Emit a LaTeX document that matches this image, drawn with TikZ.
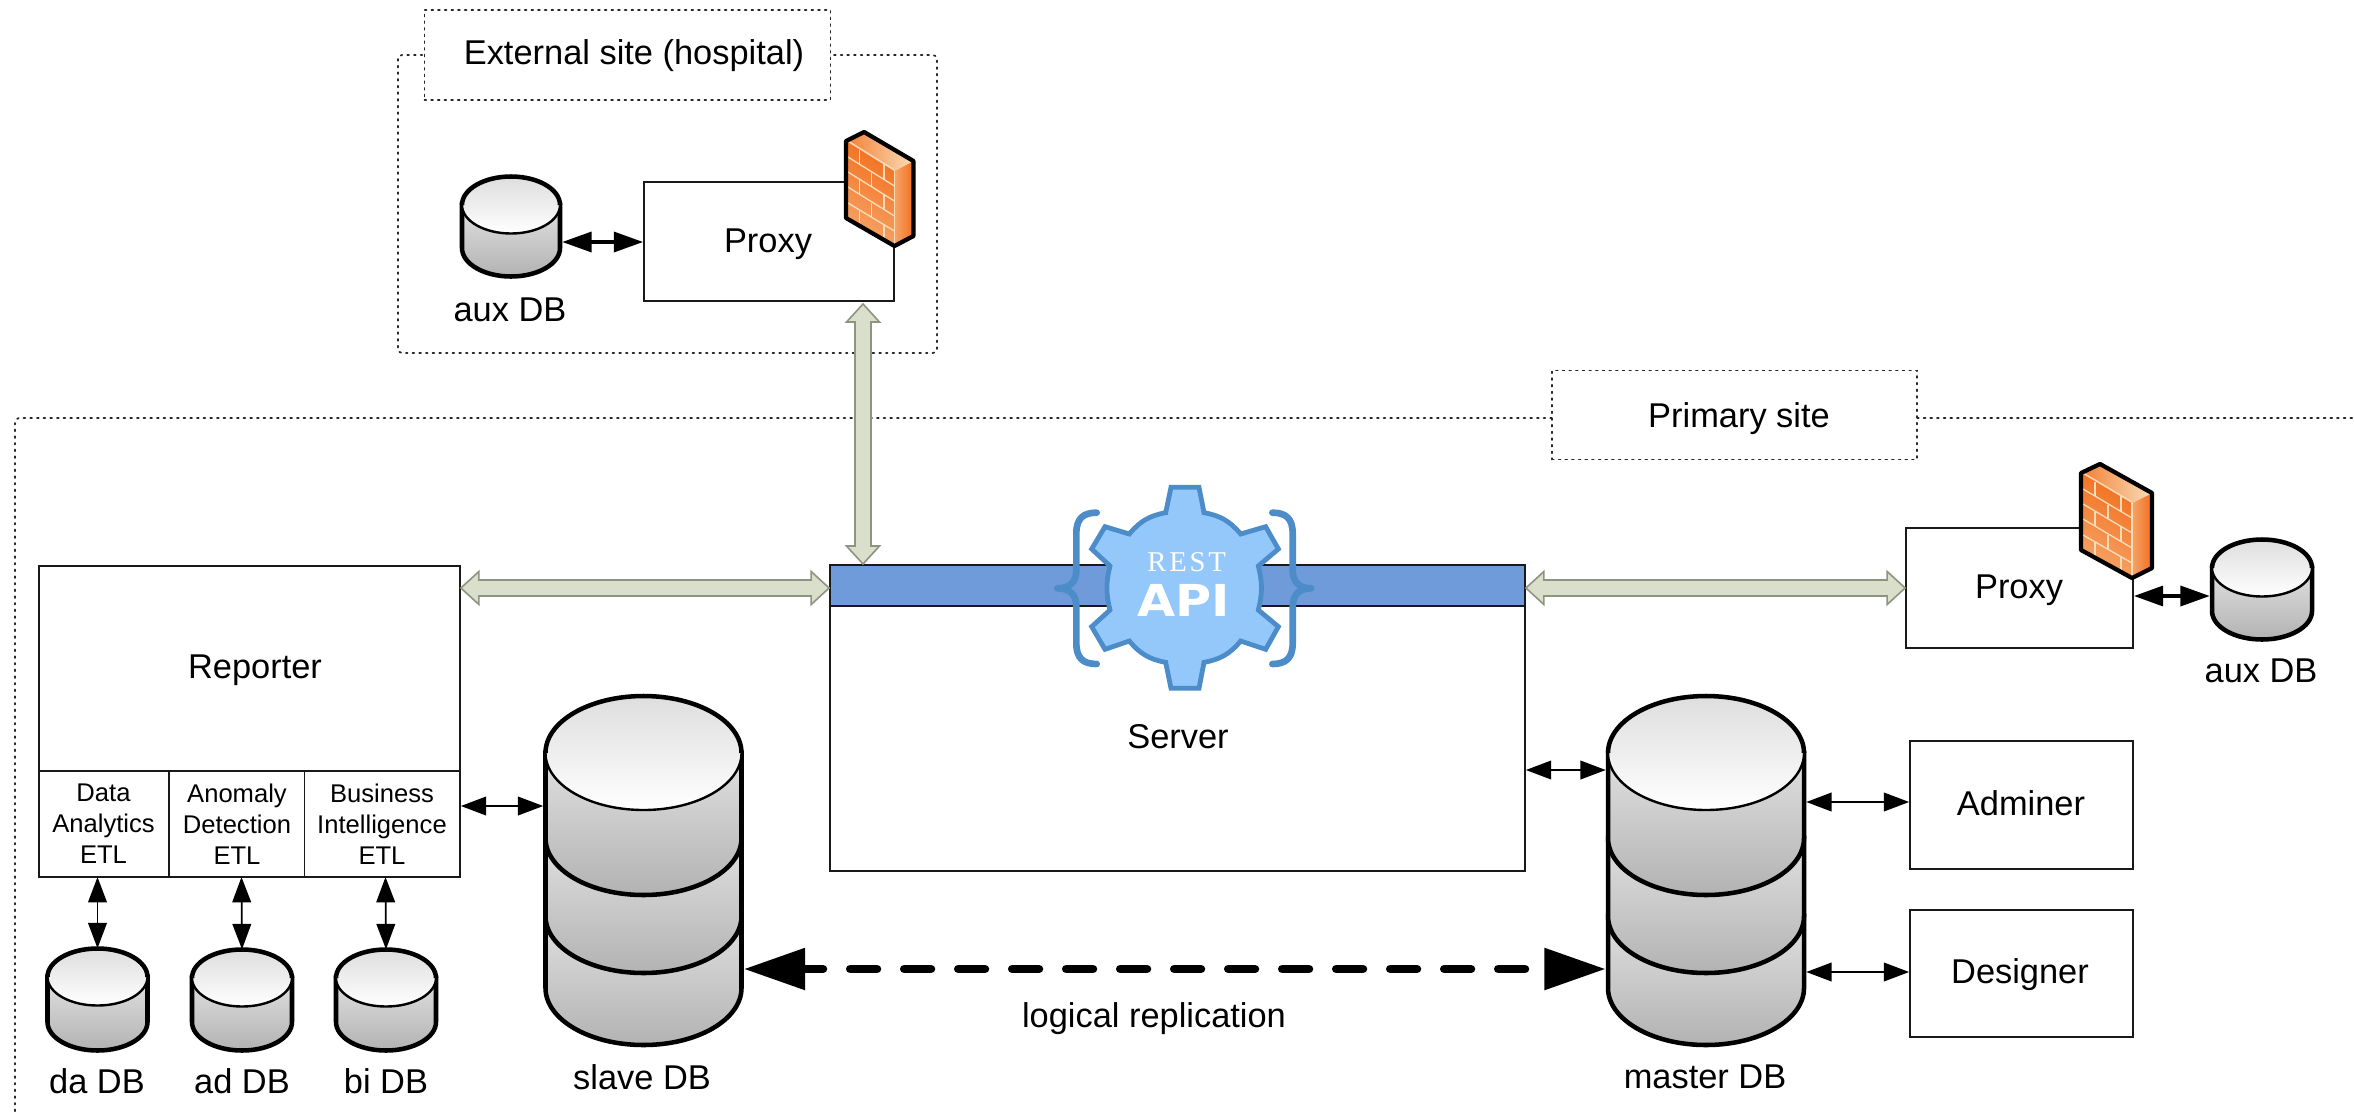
\documentclass[tikz,border=0pt]{standalone}
\usepackage{fontspec}
\setmainfont{Liberation Sans}
\newfontfamily\restfont[LetterSpace=10]{Liberation Serif}
\newfontfamily\apifont{DejaVu Sans}
\usetikzlibrary{arrows.meta,calc,shadings}
\definecolor{edgegray}{HTML}{8F9480}
\definecolor{fillgray}{HTML}{DADFCB}
\definecolor{barblue}{HTML}{6F9BDB}
\definecolor{gearfill}{HTML}{94C8FB}
\definecolor{gearedge}{HTML}{4B8CC9}
\definecolor{brickA}{HTML}{F26F1E}
\definecolor{brickB}{HTML}{F6A468}
\definecolor{brickline}{HTML}{F9DDB8}
\tikzset{
 dotbox/.style={draw=black!85,line width=1.3pt,dash pattern=on 1.3pt off 3.7pt,line cap=round},
 plainbox/.style={draw=black!90,line width=1.3pt,fill=white,inner sep=0pt},
 big/.style={font=\fontsize{25.8}{30}\selectfont,inner sep=0pt},
 small/.style={font=\fontsize{19.2}{23.2}\selectfont,inner sep=0pt,align=center},
 ghost/.style={inner sep=0pt,draw=none},
 thinarrow/.style={line width=1.3pt,{Triangle[length=19pt,width=14pt]}-{Triangle[length=19pt,width=14pt]}},
 thickarrow/.style={line width=2.6pt,{Triangle[length=22pt,width=15pt]}-{Triangle[length=22pt,width=15pt]}},
 reparrow/.style={line width=6.5pt,line cap=round,dash pattern=on 20pt off 20.5pt,dash phase=5pt,{Triangle[length=46pt,width=30pt]}-{Triangle[length=46pt,width=30pt]}},
 grayarrow/.style={draw=edgegray,fill=fillgray,line width=1.2pt,line join=miter}
}
% name, centre x, half width, top ellipse centre y, half height of ellipse, lower-arc centre y
\newcommand\dbcan[6]{%
 \node[ghost,minimum width=(#3+2)*2*0.75pt,minimum height=(#6+#5-#4+#5)*0.75pt] (#1) at (#2,{(#4-#5+#6+#5)/2}) {};
 \shade[top color=white!88!black,bottom color=white!70!black,draw=black,line width=3.4pt]
   (#2-#3,#4) -- (#2-#3,#6) arc[start angle=180,end angle=360,x radius=#3,y radius=-#5] -- (#2+#3,#4) -- cycle;
}
\newcommand\dbtop[4]{%
 \shade[top color=white!87!black,bottom color=white,draw=black,line width=1.8pt]
   (#1,#3) ellipse[x radius=#2,y radius=#4];
 \draw[black,line width=3.4pt] (#1-#2,#3) arc[start angle=180,end angle=360,x radius=#2,y radius=#4];
}
\newcommand\firewall[3]{%
 \begin{scope}[shift={(#1,#2)},xscale=#3]
  \shade[left color=brickA,right color=brickB,shading angle=-30] (0,9) -- (51,39) -- (51,114) -- (0,86) -- cycle;
  \shade[left color=brickB,right color=brickA] (51,39) -- (71,29) -- (71,104) -- (51,114) -- cycle;
  \shade[left color=brickA!70!brickB,right color=brickline] (0,9) -- (19,0) -- (71,29) -- (51,39) -- cycle;
  \begin{scope}[brickline,line width=1pt]
   \draw (2,9) -- (51,38);
   \draw (2,25) -- (51,54);
   \draw (2,40) -- (51,69);
   \draw (2,55) -- (51,84);
   \draw (2,71) -- (51,99);
   \draw (51,39) -- (51,114);
   \draw (14,18) -- (14,32);
   \draw (27,41) -- (27,55);
   \draw (40,32) -- (40,47);
   \draw (14,48) -- (14,62);
   \draw (40,62) -- (40,77);
   \draw (27,71) -- (27,85);
   \draw (14,78) -- (14,92);
   \draw (40,92) -- (40,106);
  \end{scope}
  \draw[black,line width=3.2pt,line join=round] (0,9) -- (19,0) -- (71,29) -- (71,104) -- (51,114) -- (0,86) -- cycle;
 \end{scope}
}
\newcommand\grayharrow[2]{%
 \draw[grayarrow] (#1) -- ++(18,-16.5) -- ++(0,8.5) -- ($(#2)+(-18,-8)$) -- ++(0,-8.5) -- (#2) -- ++(-18,16.5) -- ++(0,-8.5) -- ($(#1)+(18,8)$) -- ++(0,8.5) -- cycle;
}
\newcommand\grayvarrow[2]{%
 \draw[grayarrow] (#1) -- ++(-16.5,18) -- ++(8.5,0) -- ($(#2)+(-8,-18)$) -- ++(-8.5,0) -- (#2) -- ++(16.5,-18) -- ++(-8.5,0) -- ($(#1)+(8,18)$) -- ++(8.5,0) -- cycle;
}
\begin{document}
\begin{tikzpicture}[x=0.75pt,y=-0.75pt]
\useasboundingbox[fill=white] (0,0) rectangle (2354,1114);
% site frames
\draw[dotbox,rounded corners=3pt] (398,55) rectangle (937,353);
\node[plainbox,dotbox,fill=white,minimum width=304.5pt,minimum height=67.5pt] (extlabel) at (627.5,55) {};
\node[big] (exttext) at (634,56) {External site (hospital)};
\draw[dotbox,rounded corners=3pt] (1552,418) -- (15,418) -- (15,1114);
\draw[dotbox] (1917,418) -- (2354,418);
\node[plainbox,dotbox,fill=white,minimum width=273.75pt,minimum height=66.75pt] (primlabel) at (1734.5,415) {};
\node[big] (primtext) at (1739,419) {Primary site};
% External site
\node[plainbox,minimum width=187.5pt,minimum height=89.25pt] (proxyA) at (769,241.5) {};
\node[big] at (768,244) {Proxy};
\firewall{846}{132}{0.95}
\dbcan{auxA}{511}{49}{205}{28.5}{248}
\dbtop{511}{49}{205}{28.5}
\node[big] (auxAtext) at (510,310) {aux DB};
% Server
\node[plainbox,minimum width=521.25pt,minimum height=229.5pt] (server) at (1177.5,718) {};
\path[fill=barblue,draw=black!90,line width=1.3pt] (830,565) rectangle (1525,606);
\node[big] (servertext) at (1178,737) {Server};
% REST API emblem
\begin{scope}[shift={(1000,460)},x=0.25pt,y=-0.25pt]
 \draw[gearedge,line width=5pt,line cap=round,line join=round]
  (290,158) .. controls (250,158) and (229,175) .. (229,220) -- (229,330) .. controls (229,365) and (210,385) .. (172,385)
  .. controls (210,385) and (229,405) .. (229,440) -- (229,550) .. controls (229,595) and (250,612) .. (290,612);
 \draw[gearedge,line width=5pt,line cap=round,line join=round]
  (817,158) .. controls (857,158) and (878,175) .. (878,220) -- (878,330) .. controls (878,365) and (897,385) .. (933,385)
  .. controls (897,385) and (878,405) .. (878,440) -- (878,550) .. controls (878,595) and (857,612) .. (817,612);
 \draw[fill=gearfill,draw=gearedge,line width=3.6pt,line join=miter]
  (513,82) -- (597,82) -- (612,158) to[bend left=20] (722,222) -- (797,200) -- (835,267) -- (775,318)
  to[bend left=14] (775,450) -- (835,500) -- (797,568) -- (722,543) to[bend left=20] (612,607)
  -- (597,685) -- (513,685) -- (497,607) to[bend left=20] (388,543) -- (315,568) -- (275,500) -- (330,450)
  to[bend left=14] (330,318) -- (275,267) -- (315,200) -- (388,222) to[bend left=20] (497,158) -- cycle;
 \node[white,inner sep=0pt,font=\restfont\fontsize{21.5}{22}\selectfont] (resttext) at (560,305) {REST};
 \node[white,inner sep=0pt,xscale=1.12,font=\apifont\bfseries\fontsize{33}{33}\selectfont] (apitext) at (550,422) {API};
\end{scope}
% Reporter
\node[plainbox,minimum width=315.75pt,minimum height=233.25pt] (reporter) at (249.5,721.5) {};
\node[big] at (255,670) {Reporter};
\draw[plainbox] (39,771) -- (460,771);
\draw[plainbox] (169,771) -- (169,877);
\draw[plainbox] (304.5,771) -- (304.5,877);
\node[small] (etlA) at (103.5,824) {Data\\Analytics\\ETL};
\node[small] (etlB) at (237,824) {Anomaly\\Detection\\ETL};
\node[small] (etlC) at (382,824) {Business\\Intelligence\\ETL};
% small DBs
\dbcan{daDB}{97.5}{50}{977}{28.5}{1022}
\dbtop{97.5}{50}{977}{28.5}
\node[big] at (97,1081) {da DB};
\dbcan{adDB}{242}{50}{978}{28.5}{1022}
\dbtop{242}{50}{978}{28.5}
\node[big] at (242,1081) {ad DB};
\dbcan{biDB}{386}{50}{978}{28.5}{1022}
\dbtop{386}{50}{978}{28.5}
\node[big] at (386,1081) {bi DB};
% slave DB
\dbcan{slaveC}{643.5}{98}{916}{57}{988}
\dbcan{slaveB}{643.5}{98}{838}{57}{916}
\dbcan{slave}{643.5}{98}{753}{57}{838}
\dbtop{643.5}{98}{753}{57}
\node[big] at (642,1077) {slave DB};
% master DB
\dbcan{masterC}{1706}{98}{916}{57}{988}
\dbcan{masterB}{1706}{98}{838}{57}{916}
\dbcan{master}{1706}{98}{753}{57}{838}
\dbtop{1706}{98}{753}{57}
\node[big] at (1705,1077) {master DB};
% right boxes
\node[plainbox,minimum width=167.25pt,minimum height=96pt] (adminer) at (2021.5,805) {};
\node[big] at (2021,803) {Adminer};
\node[plainbox,minimum width=167.25pt,minimum height=95.25pt] (designer) at (2021.5,973.5) {};
\node[big] at (2020,975) {Designer};
\node[plainbox,minimum width=170.25pt,minimum height=90pt] (proxyB) at (2019.5,588) {};
\node[big] at (2019,590) {Proxy};
\firewall{2081}{464}{1}
\dbcan{auxB}{2262}{50}{568}{28.5}{611}
\dbtop{2262}{50}{568}{28.5}
\node[big] at (2261,671) {aux DB};
% connectors
\draw[thickarrow] (auxA.east |- 0,242) -- (proxyA.west |- 0,242);
\draw[thickarrow] (proxyB.east |- 0,596) -- (auxB.west |- 0,596);
\draw[thinarrow] (reporter.east |- 0,806) -- (slave.west |- 0,806);
\draw[thinarrow] (server.east |- 0,770) -- (master.west |- 0,770);
\draw[thinarrow] (master.east |- 0,802) -- (adminer.west |- 0,802);
\draw[thinarrow] (master.east |- 0,972) -- (designer.west |- 0,972);
\draw[thinarrow] (97.5,877) -- (daDB.north);
\draw[thinarrow] (241.5,877) -- (adDB.north);
\draw[thinarrow] (385.5,877) -- (biDB.north);
\draw[reparrow] (slave.east |- 0,969) -- (master.west |- 0,969);
\node[big] (logrep) at (1154,1019) {logical replication};
\coordinate (ga) at (reporter.east |- 0,588);
\coordinate (gb) at (server.west |- 0,588);
\coordinate (gc) at (server.east |- 0,588);
\coordinate (gd) at (proxyB.west |- 0,588);
\coordinate (ge) at (863,304);
\coordinate (gf) at (863,564);
\grayharrow{ga}{gb}
\grayharrow{gc}{gd}
\grayvarrow{ge}{gf}
\end{tikzpicture}
\end{document}
